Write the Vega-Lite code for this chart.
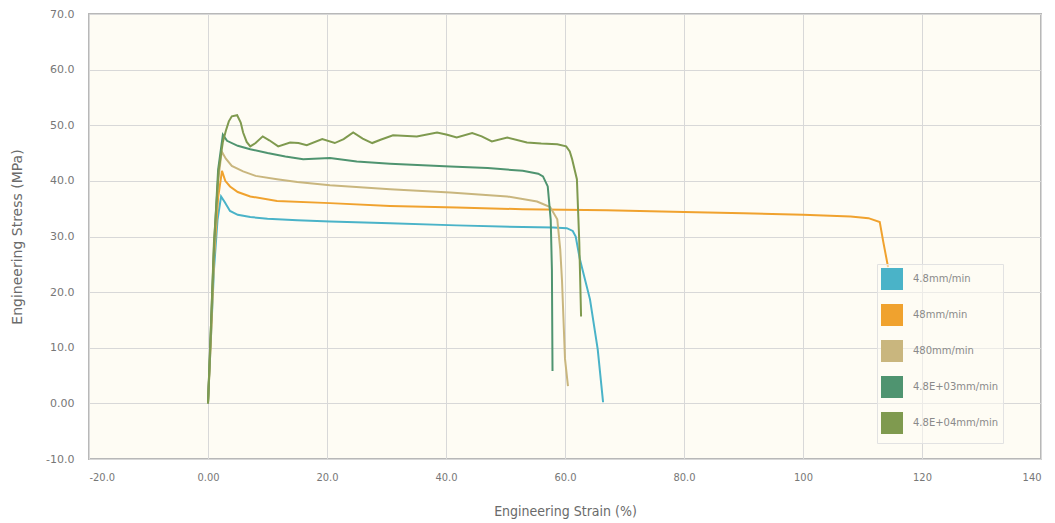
{
  "$schema": "https://vega.github.io/schema/vega-lite/v6.json",
  "autosize": "none",
  "width": 952,
  "height": 445,
  "padding": {"left": 89, "top": 14, "right": 14, "bottom": 64},
  "background": "#ffffff",
  "config": {
    "view": {"fill": "#fefcf4", "stroke": "#b8b8b8", "strokeWidth": 2},
    "axis": {"domain": false, "ticks": false, "gridColor": "#d8d8d8", "gridWidth": 1, "labelColor": "#777777", "titleColor": "#6a6a6a", "titleFontWeight": "normal"}
  },
  "data": {"values": [
    {"s":"4.8mm/min","i":0,"x":0,"y":0},{"s":"4.8mm/min","i":1,"x":0.5,"y":12},{"s":"4.8mm/min","i":2,"x":1,"y":24},{"s":"4.8mm/min","i":3,"x":1.6,"y":33},{"s":"4.8mm/min","i":4,"x":2.2,"y":37.2},{"s":"4.8mm/min","i":5,"x":2.8,"y":36.2},{"s":"4.8mm/min","i":6,"x":3.7,"y":34.6},{"s":"4.8mm/min","i":7,"x":5,"y":33.9},{"s":"4.8mm/min","i":8,"x":7.1,"y":33.5},{"s":"4.8mm/min","i":9,"x":10,"y":33.2},{"s":"4.8mm/min","i":10,"x":15,"y":32.9},{"s":"4.8mm/min","i":11,"x":20.5,"y":32.7},{"s":"4.8mm/min","i":12,"x":30.6,"y":32.4},{"s":"4.8mm/min","i":13,"x":41.8,"y":32},{"s":"4.8mm/min","i":14,"x":52.9,"y":31.7},{"s":"4.8mm/min","i":15,"x":58,"y":31.6},{"s":"4.8mm/min","i":16,"x":60.3,"y":31.5},{"s":"4.8mm/min","i":17,"x":61.3,"y":31},{"s":"4.8mm/min","i":18,"x":61.8,"y":30},{"s":"4.8mm/min","i":19,"x":62.5,"y":25.9},{"s":"4.8mm/min","i":20,"x":64.2,"y":18.7},{"s":"4.8mm/min","i":21,"x":65.5,"y":9.7},{"s":"4.8mm/min","i":22,"x":66.4,"y":0.2},
    {"s":"48mm/min","i":0,"x":0,"y":0},{"s":"48mm/min","i":1,"x":0.5,"y":12},{"s":"48mm/min","i":2,"x":1,"y":26},{"s":"48mm/min","i":3,"x":1.7,"y":37},{"s":"48mm/min","i":4,"x":2.35,"y":41.8},{"s":"48mm/min","i":5,"x":2.9,"y":40},{"s":"48mm/min","i":6,"x":3.7,"y":39},{"s":"48mm/min","i":7,"x":5,"y":38},{"s":"48mm/min","i":8,"x":7.1,"y":37.2},{"s":"48mm/min","i":9,"x":11.6,"y":36.4},{"s":"48mm/min","i":10,"x":20.5,"y":36},{"s":"48mm/min","i":11,"x":30.6,"y":35.5},{"s":"48mm/min","i":12,"x":41.8,"y":35.2},{"s":"48mm/min","i":13,"x":52.9,"y":34.9},{"s":"48mm/min","i":14,"x":67,"y":34.7},{"s":"48mm/min","i":15,"x":80,"y":34.4},{"s":"48mm/min","i":16,"x":90,"y":34.2},{"s":"48mm/min","i":17,"x":100,"y":33.9},{"s":"48mm/min","i":18,"x":108,"y":33.6},{"s":"48mm/min","i":19,"x":111,"y":33.3},{"s":"48mm/min","i":20,"x":112.9,"y":32.6},{"s":"48mm/min","i":21,"x":113.5,"y":29},{"s":"48mm/min","i":22,"x":114.3,"y":24.5},
    {"s":"480mm/min","i":0,"x":0,"y":0},{"s":"480mm/min","i":1,"x":0.5,"y":13},{"s":"480mm/min","i":2,"x":1,"y":27},{"s":"480mm/min","i":3,"x":1.7,"y":40},{"s":"480mm/min","i":4,"x":2.3,"y":45.3},{"s":"480mm/min","i":5,"x":3,"y":44},{"s":"480mm/min","i":6,"x":4,"y":42.7},{"s":"480mm/min","i":7,"x":5.9,"y":41.7},{"s":"480mm/min","i":8,"x":8,"y":40.9},{"s":"480mm/min","i":9,"x":11.6,"y":40.3},{"s":"480mm/min","i":10,"x":15,"y":39.8},{"s":"480mm/min","i":11,"x":20.5,"y":39.2},{"s":"480mm/min","i":12,"x":30.6,"y":38.5},{"s":"480mm/min","i":13,"x":40.7,"y":37.9},{"s":"480mm/min","i":14,"x":50.3,"y":37.2},{"s":"480mm/min","i":15,"x":55.3,"y":36.3},{"s":"480mm/min","i":16,"x":57.5,"y":35.3},{"s":"480mm/min","i":17,"x":58.7,"y":33.1},{"s":"480mm/min","i":18,"x":59.2,"y":27.7},{"s":"480mm/min","i":19,"x":59.5,"y":22},{"s":"480mm/min","i":20,"x":60,"y":8},{"s":"480mm/min","i":21,"x":60.5,"y":3.1},
    {"s":"4.8E+03mm/min","i":0,"x":0,"y":0},{"s":"4.8E+03mm/min","i":1,"x":0.5,"y":14},{"s":"4.8E+03mm/min","i":2,"x":1,"y":28},{"s":"4.8E+03mm/min","i":3,"x":1.7,"y":42},{"s":"4.8E+03mm/min","i":4,"x":2.5,"y":48.3},{"s":"4.8E+03mm/min","i":5,"x":3.2,"y":47.2},{"s":"4.8E+03mm/min","i":6,"x":5,"y":46.3},{"s":"4.8E+03mm/min","i":7,"x":7.1,"y":45.7},{"s":"4.8E+03mm/min","i":8,"x":10,"y":45},{"s":"4.8E+03mm/min","i":9,"x":13,"y":44.4},{"s":"4.8E+03mm/min","i":10,"x":16,"y":43.9},{"s":"4.8E+03mm/min","i":11,"x":20.5,"y":44.1},{"s":"4.8E+03mm/min","i":12,"x":25,"y":43.5},{"s":"4.8E+03mm/min","i":13,"x":30.6,"y":43.1},{"s":"4.8E+03mm/min","i":14,"x":40.7,"y":42.6},{"s":"4.8E+03mm/min","i":15,"x":47,"y":42.3},{"s":"4.8E+03mm/min","i":16,"x":52.9,"y":41.8},{"s":"4.8E+03mm/min","i":17,"x":55.5,"y":41.3},{"s":"4.8E+03mm/min","i":18,"x":56.3,"y":40.8},{"s":"4.8E+03mm/min","i":19,"x":57.1,"y":39},{"s":"4.8E+03mm/min","i":20,"x":57.6,"y":33},{"s":"4.8E+03mm/min","i":21,"x":57.8,"y":24},{"s":"4.8E+03mm/min","i":22,"x":57.9,"y":5.8},
    {"s":"4.8E+04mm/min","i":0,"x":0,"y":0},{"s":"4.8E+04mm/min","i":1,"x":0.5,"y":14},{"s":"4.8E+04mm/min","i":2,"x":1,"y":29},{"s":"4.8E+04mm/min","i":3,"x":1.8,"y":42},{"s":"4.8E+04mm/min","i":4,"x":2.5,"y":47},{"s":"4.8E+04mm/min","i":5,"x":3,"y":49},{"s":"4.8E+04mm/min","i":6,"x":3.5,"y":50.7},{"s":"4.8E+04mm/min","i":7,"x":4,"y":51.6},{"s":"4.8E+04mm/min","i":8,"x":4.9,"y":51.8},{"s":"4.8E+04mm/min","i":9,"x":5.5,"y":50.5},{"s":"4.8E+04mm/min","i":10,"x":5.9,"y":48.7},{"s":"4.8E+04mm/min","i":11,"x":6.5,"y":47},{"s":"4.8E+04mm/min","i":12,"x":7.1,"y":46.2},{"s":"4.8E+04mm/min","i":13,"x":8,"y":46.8},{"s":"4.8E+04mm/min","i":14,"x":9.2,"y":48},{"s":"4.8E+04mm/min","i":15,"x":10.3,"y":47.3},{"s":"4.8E+04mm/min","i":16,"x":11.8,"y":46.2},{"s":"4.8E+04mm/min","i":17,"x":13.8,"y":46.9},{"s":"4.8E+04mm/min","i":18,"x":15.2,"y":46.8},{"s":"4.8E+04mm/min","i":19,"x":16.6,"y":46.4},{"s":"4.8E+04mm/min","i":20,"x":19.2,"y":47.5},{"s":"4.8E+04mm/min","i":21,"x":21.3,"y":46.8},{"s":"4.8E+04mm/min","i":22,"x":22.8,"y":47.5},{"s":"4.8E+04mm/min","i":23,"x":24.4,"y":48.7},{"s":"4.8E+04mm/min","i":24,"x":26,"y":47.6},{"s":"4.8E+04mm/min","i":25,"x":27.6,"y":46.8},{"s":"4.8E+04mm/min","i":26,"x":29,"y":47.4},{"s":"4.8E+04mm/min","i":27,"x":31.1,"y":48.2},{"s":"4.8E+04mm/min","i":28,"x":35.1,"y":48},{"s":"4.8E+04mm/min","i":29,"x":38.5,"y":48.7},{"s":"4.8E+04mm/min","i":30,"x":40.2,"y":48.3},{"s":"4.8E+04mm/min","i":31,"x":41.8,"y":47.8},{"s":"4.8E+04mm/min","i":32,"x":44.4,"y":48.6},{"s":"4.8E+04mm/min","i":33,"x":46,"y":48},{"s":"4.8E+04mm/min","i":34,"x":47.7,"y":47.1},{"s":"4.8E+04mm/min","i":35,"x":50.3,"y":47.8},{"s":"4.8E+04mm/min","i":36,"x":53.6,"y":46.9},{"s":"4.8E+04mm/min","i":37,"x":56,"y":46.7},{"s":"4.8E+04mm/min","i":38,"x":58.7,"y":46.6},{"s":"4.8E+04mm/min","i":39,"x":60.2,"y":46.2},{"s":"4.8E+04mm/min","i":40,"x":60.8,"y":45.3},{"s":"4.8E+04mm/min","i":41,"x":61.2,"y":43.9},{"s":"4.8E+04mm/min","i":42,"x":62,"y":40.3},{"s":"4.8E+04mm/min","i":43,"x":62.4,"y":29},{"s":"4.8E+04mm/min","i":44,"x":62.7,"y":15.6}
  ]},
  "mark": {"type": "line", "strokeWidth": 2, "clip": true},
  "encoding": {
    "x": {"field": "x", "type": "quantitative",
      "scale": {"domain": [-20, 140], "nice": false, "zero": false},
      "axis": {"values": [-20, 0, 20, 40, 60, 80, 100, 120, 140], "title": "Engineering Strain (%)",
        "labelExpr": "datum.value == 0 ? '0.00' : replace(abs(datum.value) >= 100 ? format(datum.value, 'd') : format(datum.value, '.1f'), '\u2212', '-')",
        "labelFont": "DejaVu Sans Condensed, Liberation Sans", "labelFontSize": 11, "labelPadding": 12,
        "titleFont": "DejaVu Sans Condensed, Liberation Sans", "titleFontSize": 14, "titlePadding": 22}},
    "y": {"field": "y", "type": "quantitative",
      "scale": {"domain": [-10, 70], "nice": false, "zero": false},
      "axis": {"values": [-10, 0, 10, 20, 30, 40, 50, 60, 70], "title": "Engineering Stress (MPa)",
        "labelExpr": "datum.value == 0 ? '0.00' : replace(format(datum.value, '.1f'), '\u2212', '-')",
        "labelFont": "DejaVu Sans", "labelFontSize": 11, "labelPadding": 15,
        "titleFont": "DejaVu Sans", "titleFontSize": 14, "titlePadding": 21}},
    "color": {"field": "s", "type": "nominal",
      "scale": {"domain": ["4.8mm/min", "48mm/min", "480mm/min", "4.8E+03mm/min", "4.8E+04mm/min"],
                "range": ["#4ab3c8", "#f0a22e", "#c9b67e", "#4f9470", "#7f9a4f"]},
      "legend": {"title": null, "orient": "none", "legendX": 788, "legendY": 250, "direction": "vertical",
        "symbolType": "square", "symbolSize": 361, "symbolStrokeWidth": 3, "symbolStrokeColor": "#e2e2e2",
        "labelFont": "DejaVu Sans", "labelFontSize": 10, "labelColor": "#8a8a8a", "labelOffset": 10,
        "rowPadding": 4, "padding": 4, "fillColor": "rgba(254,252,244,0.55)", "strokeColor": "#e2e2e2",
        "labelLimit": 200,
        "encode": {"symbols": {"update": {"fill": {"scale": "color", "field": "value"}, "stroke": {"value": "#e2e2e2"}, "opacity": {"value": 1}}}}}},
    "order": {"field": "i", "type": "quantitative"}
  }
}
